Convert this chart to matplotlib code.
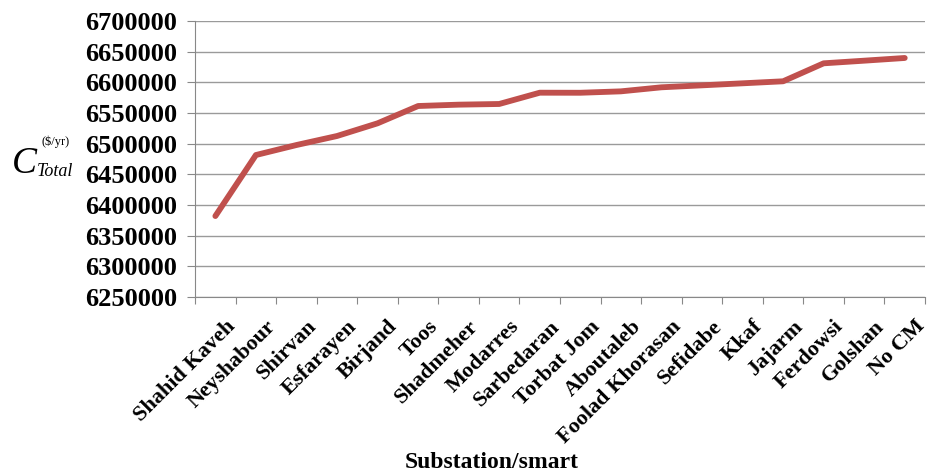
import numpy as np
import matplotlib.pyplot as plt
from matplotlib.transforms import ScaledTranslation

substations = ['Shahid Kaveh', 'Neyshabour', 'Shirvan', 'Esfarayen', 'Birjand', 'Toos',
               'Shadmeher', 'Modarres', 'Sarbedaran', 'Torbat Jom', 'Aboutaleb',
               'Foolad Khorasan', 'Sefidabe', 'Kkaf', 'Jajarm', 'Ferdowsi', 'Golshan', 'No CM']
c_total = [6382000, 6481500, 6497800, 6512500, 6533200, 6561400, 6563600, 6564700,
           6583100, 6583000, 6585300, 6591900, 6595100, 6598400, 6601700, 6631000,
           6635300, 6639700]
y_ticks = [6250000, 6300000, 6350000, 6400000, 6450000, 6500000, 6550000,
           6600000, 6650000, 6700000]

plt.rcParams['font.family'] = ['Liberation Serif', 'DejaVu Serif']

fig = plt.figure(figsize=(9.29, 4.75), dpi=100)
ax = fig.add_axes([0.21, 0.3747, 0.7857, 0.5811])

x = np.arange(len(substations)) + 0.5
ax.plot(x, c_total, color='#C0504D', linewidth=4.2, solid_capstyle='round', zorder=3)

ax.set_xlim(0, len(substations))
ax.set_ylim(y_ticks[0], y_ticks[-1])
ax.set_yticks(y_ticks)
ax.set_yticklabels([str(v) for v in y_ticks], fontsize=19, fontweight='bold')
ax.yaxis.grid(True, color='#9a9a9a', linewidth=1.0)
ax.set_axisbelow(True)

ax.set_xticks(np.arange(len(substations) + 1))
ax.set_xticklabels([])
ax.set_xticks(x, minor=True)
ax.set_xticklabels(substations, minor=True, rotation=45, ha='right',
                   rotation_mode='anchor', fontsize=16, fontweight='bold')
ax.tick_params(axis='x', which='minor', length=0, pad=14)
ax.tick_params(axis='x', which='major', length=5, color='#888888')
ax.tick_params(axis='y', length=6, color='#888888', pad=7)
shift = ScaledTranslation(10 / 100, 0, fig.dpi_scale_trans)
for lbl in ax.get_xticklabels(minor=True):
    lbl.set_transform(lbl.get_transform() + shift)

for s in ['top', 'right']:
    ax.spines[s].set_visible(False)
ax.spines['left'].set_color('#888888')
ax.spines['bottom'].set_color('#888888')

# y axis label C_Total^($/yr)
fig.text(12 / 929, 1 - 164 / 475, 'C', fontsize=27, style='italic', ha='left', va='center')
fig.text(37 / 929, 1 - 172 / 475, 'Total', fontsize=13, style='italic', ha='left', va='center')
fig.text(41 / 929, 1 - 142 / 475, '($/yr)', fontsize=9, ha='left', va='center')

fig.text(492 / 929, 1 - 463 / 475, 'Substation/smart', fontsize=17, fontweight='bold',
         ha='center', va='center')

fig.savefig('out.png', dpi=100)
